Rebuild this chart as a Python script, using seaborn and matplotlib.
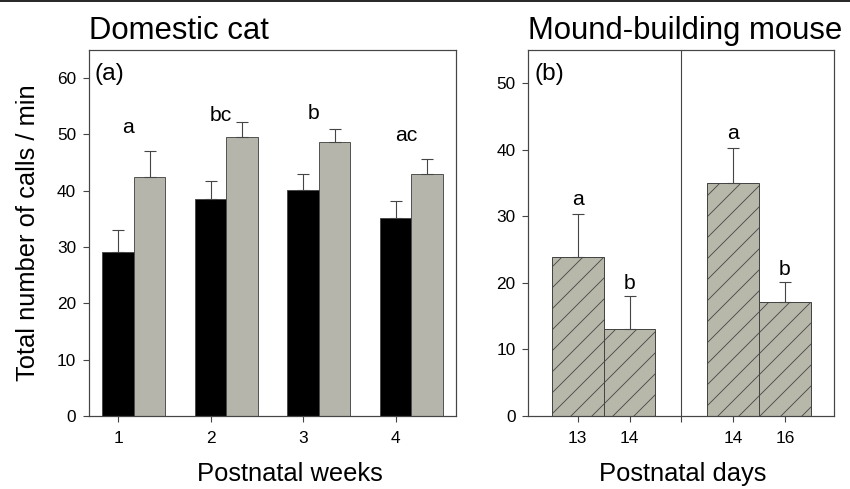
import numpy as np
import pandas as pd
import matplotlib
matplotlib.use('Agg')
import matplotlib.pyplot as plt
import seaborn as sns
from matplotlib.lines import Line2D

# (a) Domestic cat - mean calls/min per postnatal week, two groups
weeks = ['1', '2', '3', '4']
black_mean = [29.1, 38.6, 40.2, 35.2]
black_err = [3.9, 3.2, 2.8, 3.0]
gray_mean = [42.4, 49.6, 48.7, 42.9]
gray_err = [4.7, 2.6, 2.2, 2.8]
cat_letters = ['a', 'bc', 'b', 'ac']
cat_letter_y = [50.2, 52.3, 52.8, 48.9]

# (b) Mound-building mouse - postnatal days, two litters separated by a line
day_labels = ['13', '14', '14', '16']
day_pos = [0, 1, 3, 4]
mouse_mean = [23.9, 13.1, 35.0, 17.2]
mouse_err = [6.5, 5.0, 5.3, 2.9]
mouse_letters = ['a', 'b', 'a', 'b']
mouse_letter_y = [31.7, 19.1, 41.6, 21.2]

# low dpi so the '/' hatch comes out as dense as in the original
DPI = 63
S = 80 / DPI  # sizes below were worked out at 80 dpi


def pt(v):
    return v * S


sns.set_theme(style='white')
plt.rcParams['font.family'] = ['Liberation Sans', 'DejaVu Sans']
plt.rcParams['text.color'] = 'black'
plt.rcParams['axes.labelcolor'] = 'black'
plt.rcParams['xtick.color'] = 'black'
plt.rcParams['ytick.color'] = 'black'
plt.rcParams['hatch.linewidth'] = pt(0.75)

DARK = '#454545'
GRAY = '#b7b7aa'

fig = plt.figure(figsize=(850 / DPI, 489 / DPI), dpi=DPI)
ax1 = fig.add_axes([0.1047, 0.1493, 0.4314, 0.7485])
ax2 = fig.add_axes([0.6215, 0.1493, 0.3596, 0.7485])

# ---------- panel (a) ----------
df_cat = pd.DataFrame({
    'week': weeks * 2,
    'calls': black_mean + gray_mean,
    'group': ['black'] * 4 + ['gray'] * 4,
})
sns.barplot(data=df_cat, x='week', y='calls', hue='group', order=weeks,
            palette={'black': 'black', 'gray': GRAY}, width=0.68,
            errorbar=None, legend=False, ax=ax1,
            edgecolor=DARK, linewidth=pt(0.8))

xpos = np.arange(len(weeks))
ax1.errorbar(xpos - 0.17, black_mean, yerr=[np.zeros(4), black_err], fmt='none',
             ecolor=DARK, elinewidth=pt(1.0), capsize=pt(5), capthick=pt(1.0), zorder=5)
ax1.errorbar(xpos + 0.17, gray_mean, yerr=[np.zeros(4), gray_err], fmt='none',
             ecolor=DARK, elinewidth=pt(1.0), capsize=pt(5), capthick=pt(1.0), zorder=5)

for i, (lab, ly) in enumerate(zip(cat_letters, cat_letter_y)):
    ax1.text(i - 0.06, ly, lab, ha='center', va='baseline', fontsize=pt(19))

ax1.set_xticks(xpos - 0.17)
ax1.set_xticklabels(weeks)
ax1.set_xlim(-0.484, 3.479)
ax1.set_ylim(0, 65)
ax1.set_yticks(range(0, 61, 10))
ax1.set_ylabel('Total number of calls / min', fontsize=pt(23))
ax1.yaxis.set_label_coords(-0.134, 0.5)
ax1.set_xlabel('Postnatal weeks', fontsize=pt(23))
ax1.xaxis.set_label_coords(0.547, -0.126)
ax1.set_title('Domestic cat', loc='left', fontsize=pt(28), pad=pt(10))
ax1.text(0.016, 0.918, '(a)', transform=ax1.transAxes, fontsize=pt(22), va='baseline')

# ---------- panel (b) ----------
df_mouse = pd.DataFrame({'pos': day_pos, 'calls': mouse_mean})
sns.barplot(data=df_mouse, x='pos', y='calls', native_scale=True, width=1.0,
            color=GRAY, saturation=1, errorbar=None, ax=ax2,
            edgecolor=DARK, linewidth=pt(0.9))
for p in ax2.patches:
    p.set_hatch('/')
    p.set_facecolor(GRAY)

ax2.errorbar(day_pos, mouse_mean, yerr=[np.zeros(4), mouse_err], fmt='none',
             ecolor=DARK, elinewidth=pt(1.0), capsize=pt(5), capthick=pt(1.0), zorder=5)
for x, lab, ly in zip(day_pos, mouse_letters, mouse_letter_y):
    ax2.text(x, ly, lab, ha='center', va='baseline', fontsize=pt(19))

ax2.axvline(2, color=DARK, lw=pt(1.0))
ax2.set_xticks([0, 1, 2, 3, 4])
ax2.set_xticklabels([day_labels[0], day_labels[1], '', day_labels[2], day_labels[3]])
ax2.set_xlim(-0.954, 4.946)
ax2.set_ylim(0, 55)
ax2.set_yticks(range(0, 51, 10))
ax2.set_ylabel('')
ax2.set_xlabel('Postnatal days', fontsize=pt(23))
ax2.xaxis.set_label_coords(0.506, -0.126)
ax2.set_title('Mound-building mouse', loc='left', fontsize=pt(28), pad=pt(10))
ax2.text(0.022, 0.918, '(b)', transform=ax2.transAxes, fontsize=pt(22), va='baseline')

for ax in (ax1, ax2):
    for s in ax.spines.values():
        s.set_color(DARK)
        s.set_linewidth(pt(1.1))
    ax.tick_params(axis='both', direction='out', length=pt(5.5), width=pt(1.0),
                   color=DARK, labelcolor='black', labelsize=pt(15.5),
                   left=True, bottom=True)
    ax.tick_params(axis='y', pad=pt(6))
    ax.tick_params(axis='x', pad=pt(8))

fig.add_artist(Line2D([0, 1], [0.998, 0.998], color='black', lw=pt(1.5),
                      transform=fig.transFigure))

fig.savefig('out.png', dpi=DPI)
